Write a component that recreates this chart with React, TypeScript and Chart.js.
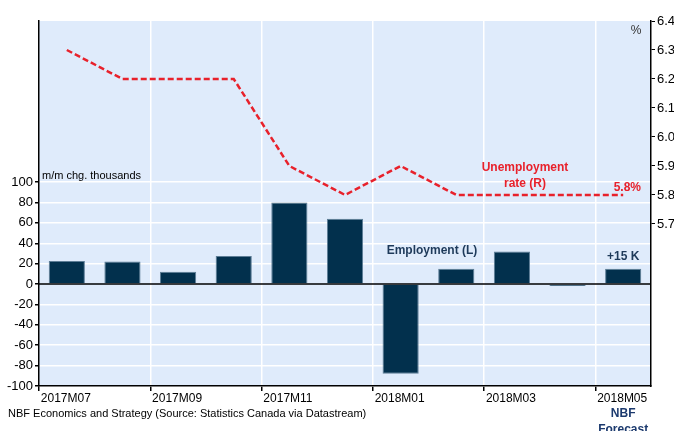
import { useEffect, useRef } from 'react';
import { Chart, registerables } from 'chart.js';
Chart.register(...registerables);

const months = ['2017M07', '2017M08', '2017M09', '2017M10', '2017M11', '2017M12', '2018M01', '2018M02', '2018M03', '2018M04', '2018M05'];
const labeledMonths = ['2017M07', '2017M09', '2017M11', '2018M01', '2018M03', '2018M05'];
const employment = [22.5, 22, 12, 27.5, 80, 64, -88, 15, 32, -2, 15];
const unemployment = [6.3, 6.2, 6.2, 6.2, 5.9, 5.8, 5.9, 5.8, 5.8, 5.8, 5.8];
const leftTicks = [-100, -80, -60, -40, -20, 0, 20, 40, 60, 80, 100];
const rightTicks = [5.7, 5.8, 5.9, 6.0, 6.1, 6.2, 6.3, 6.4];

const FONT = "'Liberation Sans', Arial, sans-serif";
const RED = '#e8212b';
const NAVY = '#02304d';

export default function App() {
  const ref = useRef<HTMLCanvasElement | null>(null);
  useEffect(() => {
    document.body.style.margin = '0';
    const canvas = ref.current!;
    const decor = {
      id: 'decor',
      beforeDraw(chart: any) {
        const { ctx, chartArea: a } = chart;
        ctx.save();
        ctx.fillStyle = '#dfebfb';
        ctx.fillRect(a.left, a.top, a.right - a.left, a.bottom - a.top);
        ctx.restore();
      },
      afterDatasetsDraw(chart: any) {
        const { ctx, chartArea: a } = chart;
        const y0 = chart.scales.y.getPixelForValue(0);
        ctx.save();
        ctx.strokeStyle = '#000';
        ctx.lineWidth = 1.5;
        ctx.beginPath();
        ctx.moveTo(a.left, y0);
        ctx.lineTo(a.right, y0);
        ctx.stroke();
        ctx.restore();
      },
      afterDraw(chart: any) {
        const { ctx, chartArea: a } = chart;
        const xs = chart.scales.x;
        const xMay = xs.getPixelForValue(10);
        ctx.save();
        ctx.textBaseline = 'middle';
        ctx.fillStyle = '#000';
        ctx.font = `11px ${FONT}`;
        ctx.textAlign = 'left';
        ctx.fillText('m/m chg. thousands', a.left + 3, 176);
        ctx.fillStyle = '#333';
        ctx.font = `12px ${FONT}`;
        ctx.textAlign = 'center';
        ctx.fillText('%', 636, 31);
        ctx.fillStyle = RED;
        ctx.font = `bold 12px ${FONT}`;
        ctx.fillText('Unemployment', 525, 168);
        ctx.fillText('rate (R)', 525, 184);
        ctx.textAlign = 'right';
        ctx.fillText('5.8%', 641, 188);
        ctx.textAlign = 'center';
        ctx.fillStyle = '#1e3a5a';
        ctx.fillText('Employment (L)', 432, 251);
        ctx.fillText('+15 K', xMay, 257);
        ctx.fillStyle = '#000';
        ctx.font = `11px ${FONT}`;
        ctx.textAlign = 'left';
        ctx.fillText('NBF Economics and Strategy (Source: Statistics Canada via Datastream)', 8, 414);
        ctx.fillStyle = '#1c3a6e';
        ctx.font = `bold 12px ${FONT}`;
        ctx.textAlign = 'center';
        ctx.fillText('NBF', xMay, 414);
        ctx.fillText('Forecast', xMay, 430);
        ctx.restore();
      },
    };
    const chart = new Chart(canvas, {
      type: 'bar',
      data: {
        labels: months,
        datasets: [
          {
            type: 'line',
            data: unemployment,
            yAxisID: 'y1',
            borderColor: RED,
            borderWidth: 2.5,
            borderDash: [6, 3],
            pointRadius: 0,
            fill: false,
            tension: 0,
            order: 0,
          } as any,
          {
            type: 'bar',
            data: employment,
            yAxisID: 'y',
            backgroundColor: NAVY,
            borderColor: '#5d7d96',
            borderWidth: 1,
            barPercentage: 0.65,
            categoryPercentage: 1,
            order: 1,
          },
        ],
      },
      options: {
        animation: false,
        responsive: false,
        devicePixelRatio: 1,
        layout: { padding: { top: 21, left: 0, right: 0, bottom: 0 } },
        plugins: { legend: { display: false }, tooltip: { enabled: false }, title: { display: false } },
        scales: {
          x: {
            offset: true,
            grid: {
              offset: true,
              drawTicks: true,
              tickLength: 5,
              color: (c: any) => (c.index % 2 === 0 && c.index > 0 ? '#ffffff' : 'rgba(0,0,0,0)'),
              tickColor: (c: any) => (c.index % 2 === 0 ? '#000' : 'rgba(0,0,0,0)'),
              lineWidth: 1.5,
            },
            border: { display: true, color: '#000', width: 1.5 },
            ticks: {
              autoSkip: false,
              maxRotation: 0,
              minRotation: 0,
              align: 'start',
              labelOffset: -26,
              padding: 0,
              color: '#000',
              font: { family: FONT, size: 12 },
              callback: (_v: any, i: number) => (labeledMonths.includes(months[i]) ? months[i] : ''),
            },
            afterFit: (s: any) => {
              s.height = 45;
              s.paddingLeft = 0;
              s.paddingRight = 0;
            },
          },
          y: {
            position: 'left',
            min: -100,
            max: 258,
            afterBuildTicks: (s: any) => {
              s.ticks = leftTicks.map((v) => ({ value: v }));
            },
            grid: {
              color: (c: any) => (c.tick && c.tick.value === 0 ? 'rgba(0,0,0,0)' : '#ffffff'),
              lineWidth: 1.5,
              tickLength: 4,
              tickColor: '#000',
            },
            border: { display: true, color: '#000', width: 1.5 },
            ticks: {
              padding: 2,
              color: '#000',
              font: { family: FONT, size: 13 },
              callback: (v: any) => String(v),
            },
            afterFit: (s: any) => {
              s.width = 39;
              s.paddingTop = 0;
              s.paddingBottom = 0;
            },
          },
          y1: {
            position: 'right',
            min: 5.141,
            max: 6.4,
            afterBuildTicks: (s: any) => {
              s.ticks = rightTicks.map((v) => ({ value: v }));
            },
            grid: { drawOnChartArea: false, tickLength: 4, tickColor: '#000' },
            border: { display: true, color: '#000', width: 1.5 },
            ticks: {
              padding: 2,
              color: '#000',
              font: { family: FONT, size: 13 },
              callback: (v: any) => Number(v).toFixed(1),
            },
            afterFit: (s: any) => {
              s.width = 23;
              s.paddingTop = 0;
              s.paddingBottom = 0;
            },
          },
        },
      },
      plugins: [decor],
    });
    return () => chart.destroy();
  }, []);
  return <canvas ref={ref} width={674} height={431} style={{ display: 'block', width: 674, height: 431 }} />;
}
